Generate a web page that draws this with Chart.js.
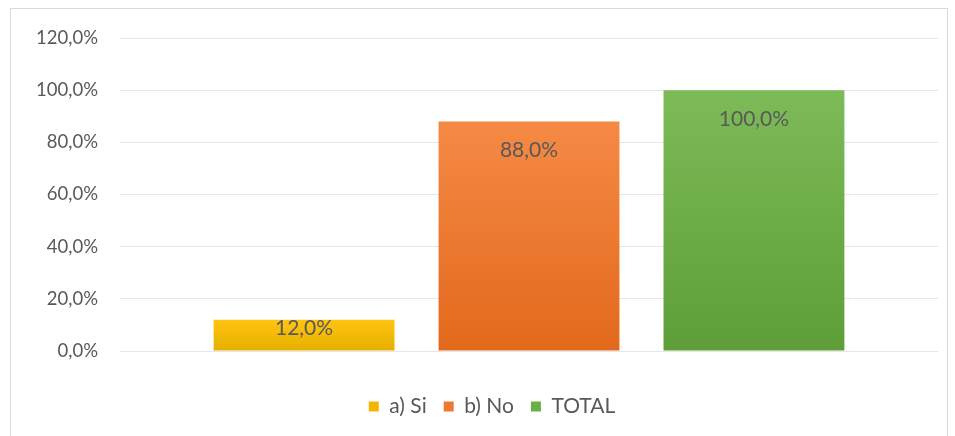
<!DOCTYPE html>
<html>
<head>
<meta charset="utf-8">
<script src="https://cdn.jsdelivr.net/npm/chart.js@4"></script>
<style>
  body { margin: 0; background: #fff; }
  #frame { position: absolute; left: 10px; top: 8px; width: 938px; height: 440px; border: 1px solid #d9d9d9; box-sizing: border-box; }
  #wrap { position: absolute; left: 0; top: 0; width: 955px; height: 436px; }
</style>
</head>
<body>
<div id="frame"></div>
<div id="wrap"><canvas id="chart"></canvas></div>
<script>
const categories = ['']
const seriesNames = ['a) Si', 'b) No', 'TOTAL']
const seriesValues = [[12.0], [88.0], [100.0]]
const yTicks = [0, 20, 40, 60, 80, 100, 120]

const topColors = ['#FFC410', '#F58A45', '#7CBB57']
const bottomColors = ['#E6B000', '#E2691C', '#5E9E38']
const legendColors = ['#F2B600', '#EC7A30', '#6AAE45']

const fmt = v => v.toFixed(1).replace('.', ',') + '%'
const FONT = 'Lato, "Open Sans", sans-serif'

function gradient(ctx, i) {
  const chart = ctx.chart
  const area = chart.chartArea
  const y = chart.scales.y
  if (!area || !y || ctx.raw === undefined) return topColors[i]
  const top = y.getPixelForValue(ctx.raw)
  const g = chart.ctx.createLinearGradient(0, top, 0, area.bottom)
  g.addColorStop(0, topColors[i])
  g.addColorStop(1, bottomColors[i])
  return g
}

const datasets = seriesNames.map((name, i) => ({
  label: name,
  data: seriesValues[i],
  backgroundColor: ctx => gradient(ctx, i),
  borderWidth: 0,
  barPercentage: 0.804,
  categoryPercentage: 0.825
}))

// data labels just inside the top of each bar
const valueLabels = {
  id: 'valueLabels',
  afterDatasetsDraw(chart) {
    const ctx = chart.ctx
    ctx.save()
    ctx.font = '21px ' + FONT
    ctx.fillStyle = '#595959'
    ctx.textAlign = 'center'
    ctx.textBaseline = 'middle'
    chart.data.datasets.forEach((ds, di) => {
      chart.getDatasetMeta(di).data.forEach((bar, j) => {
        const y = Math.min(bar.y + 29, (bar.y + bar.base) / 2 - 7)
        ctx.fillText(fmt(ds.data[j]), bar.x, y)
      })
    })
    ctx.restore()
  }
}

// nudge the legend so it is centred under the plot area
const legendShift = {
  id: 'legendShift',
  afterLayout(chart) {
    const lg = chart.legend
    if (!lg) return
    const dx = (chart.chartArea.left + chart.chartArea.right) / 2 - (lg.left + lg.right) / 2 - 37
    lg.left += dx
    lg.right += dx
  }
}

new Chart(document.getElementById('chart'), {
  type: 'bar',
  data: { labels: categories, datasets: datasets },
  plugins: [valueLabels, legendShift],
  options: {
    responsive: true,
    maintainAspectRatio: false,
    animation: false,
    layout: { padding: { top: 38, bottom: 9, right: 17, left: 0 } },
    plugins: {
      tooltip: { enabled: false },
      legend: {
        position: 'bottom',
        labels: {
          boxWidth: 10,
          boxHeight: 10,
          padding: 17,
          color: '#595959',
          font: { family: FONT, size: 21 },
          generateLabels: chart => seriesNames.map((n, i) => ({
            text: n,
            fillStyle: legendColors[i],
            strokeStyle: legendColors[i],
            lineWidth: 0,
            fontColor: '#595959',
            datasetIndex: i
          }))
        }
      }
    },
    scales: {
      x: {
        grid: { display: false },
        border: { display: false },
        ticks: { display: false },
        afterFit: s => { s.height = 28 }
      },
      y: {
        min: 0,
        max: 120,
        afterBuildTicks: s => { s.ticks = yTicks.map(v => ({ value: v })) },
        afterFit: s => { s.width = 120 },
        grid: { color: '#e6e6e6', drawTicks: false },
        border: { display: false },
        ticks: {
          padding: 22,
          color: '#595959',
          font: { family: FONT, size: 18.5 },
          callback: v => fmt(v)
        }
      }
    }
  }
})
</script>
</body>
</html>
